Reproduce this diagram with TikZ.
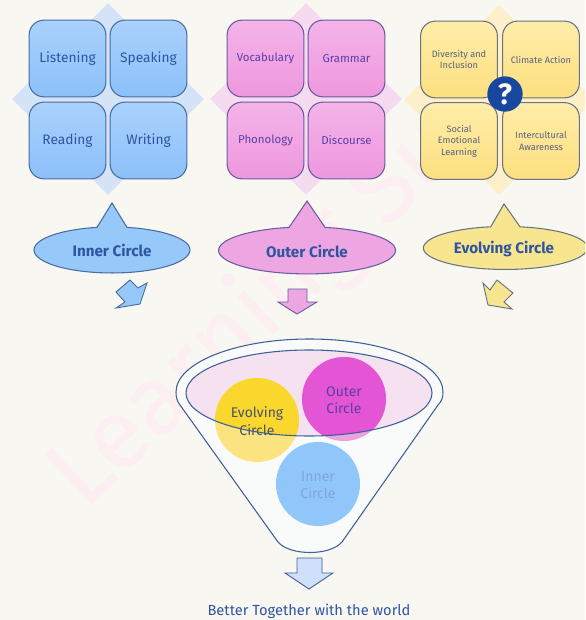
\documentclass[tikz,border=0pt]{standalone}
\usepackage{fontspec}
\setmainfont{Fira Sans}
\usetikzlibrary{shapes.geometric}
\definecolor{bgc}{HTML}{F8F7F2}
\definecolor{bluef}{HTML}{97C8FA}
\definecolor{bluetop}{HTML}{AAD1FC}
\definecolor{bluebot}{HTML}{8BC0F9}
\definecolor{bluedia}{HTML}{D5E3F8}
\definecolor{blueln}{HTML}{4A6EA0}
\definecolor{bluetx}{HTML}{2F55A0}
\definecolor{pinkf}{HTML}{EEA6E2}
\definecolor{pinktop}{HTML}{F3B4E9}
\definecolor{pinkbot}{HTML}{EF97DE}
\definecolor{pinkdia}{HTML}{F6DAF0}
\definecolor{pinkln}{HTML}{6A5CA0}
\definecolor{pinktx}{HTML}{5A3FA6}
\definecolor{yelf}{HTML}{F8E58F}
\definecolor{yeltop}{HTML}{FEEDA9}
\definecolor{yelbot}{HTML}{FDDF7F}
\definecolor{yeldia}{HTML}{FCEFC9}
\definecolor{yelln}{HTML}{6A7480}
\definecolor{yeltx}{HTML}{566080}
\definecolor{wmark}{HTML}{FCEEF1}
\definecolor{qmark}{HTML}{17479E}
\definecolor{funline}{HTML}{3F5F98}
\definecolor{funfill}{HTML}{F9FAFA}
\definecolor{rimfill}{HTML}{F5E1F0}
\definecolor{evopale}{HTML}{FBE47F}
\definecolor{evostrong}{HTML}{FAD72C}
\definecolor{outpale}{HTML}{EBA2E0}
\definecolor{outstrong}{HTML}{E355D5}
\definecolor{innc}{HTML}{90C6FA}
\definecolor{inntx}{HTML}{7FA5DE}
\definecolor{downf}{HTML}{CFE0FA}
\tikzset{
 x=0.75pt,y=-0.75pt,
 tilebox/.style={draw,line width=0.8pt,rounded corners=11pt,minimum width=57.5pt,minimum height=57.5pt,inner sep=1pt,align=center},
 bluebox/.style={tilebox,draw=blueln,top color=bluetop,bottom color=bluebot,text=bluetx,font=\fontsize{10.3}{12}\selectfont},
 pinkbox/.style={tilebox,draw=pinkln,top color=pinktop,bottom color=pinkbot,text=pinktx,font=\fontsize{8.6}{10}\selectfont},
 yelbox/.style={tilebox,draw=yelln,top color=yeltop,bottom color=yelbot,text=yeltx,font=\fontsize{6.9}{8.6}\selectfont},
 diam/.style={diamond,minimum width=#1*0.75pt,minimum height=#1*0.75pt,inner sep=0pt},
 call/.style={line width=0.8pt},
 calltext/.style={font=\bfseries\fontsize{11.4}{12}\selectfont},
 blk/.style={line width=0.7pt,line join=miter},
 bigc/.style={circle,minimum size=63pt,inner sep=0pt},
 ctext/.style={align=center,font=\fontsize{10.5}{13}\selectfont},
}
\begin{document}
\begin{tikzpicture}
\useasboundingbox (0,0) rectangle (585,620);
\clip (0,0) rectangle (585,620);
\fill[bgc] (0,0) rectangle (585,620);
\node[text=wmark,rotate=43,anchor=base west,font=\fontsize{74}{74}\selectfont,inner sep=0pt] (wm) at (84,512) {Learning Su};
% diamonds
\node[diam=192,fill=bluedia] (d1) at (108,99) {};
\node[diam=192,fill=pinkdia] (d2) at (306,99) {};
\node[diam=190,fill=yeldia] (d3) at (499,100) {};
% tiles
\node[bluebox] (listening) at (67.5,58.5) {Listening};
\node[bluebox] (speaking) at (148.5,58.5) {Speaking};
\node[bluebox] (reading) at (67.5,140.5) {Reading};
\node[bluebox] (writing) at (148.5,140.5) {Writing};
\node[pinkbox] (vocabulary) at (265.5,58.5) {Vocabulary};
\node[pinkbox] (grammar) at (346.5,58.5) {Grammar};
\node[pinkbox] (phonology) at (265.5,140.5) {Phonology};
\node[pinkbox] (discourse) at (346.5,140.5) {Discourse};
\node[yelbox] (diversity) at (459,59.5) {Diversity and\\Inclusion};
\node[yelbox] (climate) at (541,59.5) {Climate Action};
\node[yelbox] (social) at (459,141) {Social\\Emotional\\Learning};
\node[yelbox] (intercultural) at (541,141) {Intercultural\\Awareness};
\node[circle,fill=qmark,minimum size=26.5pt,inner sep=0pt,text=white,font=\bfseries\fontsize{22}{22}\selectfont] (q) at (505,94) {?};
% callouts
\draw[call,draw=blueln,fill=bluef] (127,227.4) arc[start angle=-78.9,end angle=258.9,x radius=78,y radius=23] -- (112,203) -- cycle;
\node[calltext,text=bluetx] (inner) at (112,250.5) {Inner Circle};
\draw[call,draw=pinkln,fill=pinkf] (325,227.4) arc[start angle=-78.3,end angle=258.3,x radius=88.5,y radius=23.5] -- (307,201) -- cycle;
\node[calltext,text=bluetx] (outer) at (307,251.5) {Outer Circle};
\draw[call,draw=yelln,fill=yelf] (520,226.8) arc[start angle=-79.7,end angle=259.7,x radius=82,y radius=21.5] -- (504,204) -- cycle;
\node[calltext,text=bluetx] (evolving) at (504,249.5) {Evolving Circle};
% small arrows
\draw[blk,draw=blueln,fill=bluef] (130,280) -- (138,288) -- (147,283) -- (140,304) -- (116,308) -- (125,302) -- (116,292) -- cycle;
\draw[blk,draw=pinkln,fill=pinkf] (288,289) -- (307,289) -- (307,302) -- (317,302) -- (297,314) -- (278,302) -- (288,302) -- cycle;
\draw[blk,draw=yelln,fill=yelf] (483,283) -- (490,290) -- (497,280) -- (513,293) -- (504,302) -- (512,309) -- (488,305) -- cycle;
% funnel
\draw[line width=0.8pt,draw=funline,fill=funfill] (176,392)
  arc[start angle=180,end angle=360,x radius=133.5,y radius=53]
  .. controls (443,397) and (442,401) .. (438,405) -- (342,542)
  .. controls (330,556) and (290,556) .. (278,542)
  -- (180,405) .. controls (177,401) and (176,397) .. (176,392) -- cycle;
\fill[rimfill] (309,393) ellipse[x radius=123,y radius=43];
\node[bigc,fill=evopale] (evoc) at (257,420) {};
\node[bigc,fill=outpale] (outc) at (344,399) {};
\node[bigc,fill=innc] (innc) at (318,484) {};
\begin{scope}
\clip (309,393) ellipse[x radius=123,y radius=43];
\fill[evostrong] (257,420) circle[radius=42];
\fill[outstrong] (344,399) circle[radius=42];
\end{scope}
\node[ctext,text=yeltx!85!black] (evot) at (257,421) {Evolving\\Circle};
\node[ctext,text=pinktx] (outt) at (344,400) {Outer\\Circle};
\node[ctext,text=inntx] (innt) at (318,485) {Inner\\Circle};
\draw[line width=0.8pt,draw=funline] (309,393) ellipse[x radius=123,y radius=43];
% output
\draw[blk,draw=funline,fill=downf] (297,558) -- (322,558) -- (322,573) -- (333,573) -- (309,589) -- (285,573) -- (297,573) -- cycle;
\node[text=bluetx,font=\fontsize{11}{11}\selectfont] (better) at (309,611) {Better Together with the world};
\end{tikzpicture}
\end{document}
